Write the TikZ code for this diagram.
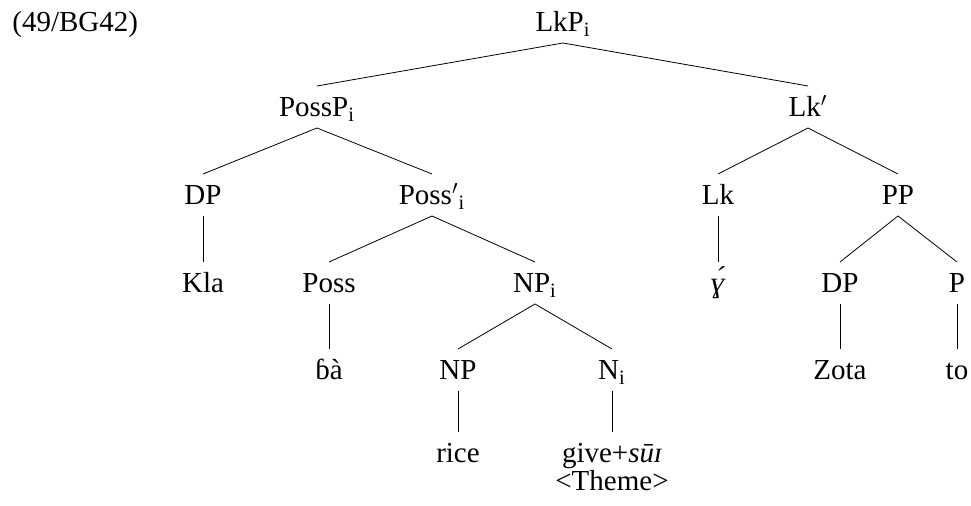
\documentclass[tikz,border=0pt]{standalone}
\usepackage{fontspec}
\setmainfont{Liberation Serif}
\begin{document}
\begin{tikzpicture}[x=0.5pt, y=-0.5pt,
  lbl/.style={inner sep=0pt, outer ysep=5.5pt, text height=10pt, text depth=0pt,
    anchor=base, font=\fontsize{14.5}{17}\selectfont}]
\useasboundingbox (0,0) rectangle (971,506);
\node[lbl, anchor=base west] (exnum) at (12,32){(49/BG42)};
\node[lbl] (lkp) at (563,32){LkP\textsubscript{i}};
\node[lbl] (possp) at (317,117){PossP\textsubscript{i}};
\node[lbl] (lkbar) at (808,117){Lk$'$};
\draw[](lkp.south) -- (possp.north);
\draw[](lkp.south) -- (lkbar.north);
% possessor side
\node[lbl] (dp) at (203,205){DP};
\node[lbl] (possbar) at (432,205){Poss$'$\textsubscript{i}};
\draw[](possp.south) -- (dp.north);
\draw[](possp.south) -- (possbar.north);
\node[lbl] (kla) at (203,293){Kla};
\draw[](dp.south) -- (kla.north);
\node[lbl] (poss) at (329,293){Poss};
\node[lbl] (npi) at (535,293){NP\textsubscript{i}};
\draw[](possbar.south) -- (poss.north);
\draw[](possbar.south) -- (npi.north);
\node[lbl] (ba) at (329,380){ɓà};
\draw[](poss.south) -- (ba.north);
\node[lbl] (np) at (458,380){NP};
\node[lbl] (ni) at (612,380){N\textsubscript{i}};
\draw[](npi.south) -- (np.north);
\draw[](npi.south) -- (ni.north);
\node[lbl] (rice) at (458,463){rice};
\node[lbl] (give) at (612,463){give+\textit{sūɪ}};
\node[lbl] (theme) at (612,491){<Theme>};
\draw[](np.south) -- (rice.north);
\draw[](ni.south) -- (give.north);
% linker side
\node[lbl] (lk) at (718,205){Lk};
\node[lbl] (pp) at (898,205){PP};
\draw[](lkbar.south) -- (lk.north);
\draw[](lkbar.south) -- (pp.north);
\node[lbl] (lnk) at (718,293){\textit{ɣ́}};
\draw[](lk.south) -- (lnk.north);
\node[lbl] (dpz) at (840,293){DP};
\node[lbl] (p) at (957,293){P};
\draw[](pp.south) -- (dpz.north);
\draw[](pp.south) -- (p.north);
\node[lbl] (zota) at (840,380){Zota};
\node[lbl] (to) at (957,380){to};
\draw[](dpz.south) -- (zota.north);
\draw[](p.south) -- (to.north);
\end{tikzpicture}
\end{document}
